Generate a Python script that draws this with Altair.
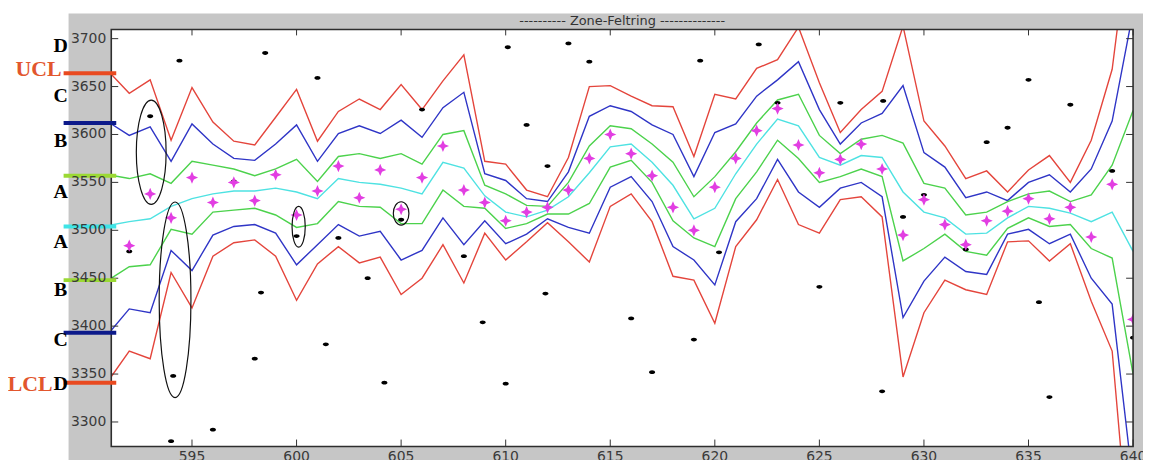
import altair as alt
import pandas as pd

# ---------------- data ----------------
x_pos = list(range(591, 641))

upper3 = [3666, 3643, 3657, 3594, 3649, 3613, 3593, 3589, 3618, 3647,
          3593, 3624, 3637, 3626, 3652, 3626, 3656, 3683, 3572, 3569,
          3542, 3535, 3576, 3650, 3651, 3640, 3630, 3629, 3577, 3642,
          3637, 3669, 3678, 3712, 3654, 3602, 3626, 3645, 3713, 3614,
          3588, 3554, 3562, 3540, 3563, 3578, 3550, 3594, 3668, 3840]
upper2 = [3613, 3599, 3608, 3572, 3611, 3590, 3575, 3573, 3590, 3610,
          3572, 3601, 3609, 3601, 3615, 3597, 3628, 3644, 3559, 3552,
          3533, 3530, 3561, 3619, 3630, 3624, 3610, 3600, 3556, 3602,
          3611, 3640, 3657, 3676, 3626, 3590, 3612, 3622, 3651, 3581,
          3566, 3534, 3540, 3531, 3550, 3558, 3540, 3564, 3614, 3728]
upper1 = [3558, 3554, 3559, 3549, 3572, 3568, 3564, 3557, 3564, 3574,
          3551, 3577, 3580, 3575, 3580, 3569, 3600, 3604, 3547, 3538,
          3526, 3525, 3550, 3588, 3609, 3606, 3590, 3571, 3535, 3556,
          3582, 3612, 3636, 3642, 3599, 3580, 3595, 3599, 3591, 3549,
          3544, 3516, 3519, 3530, 3538, 3541, 3530, 3537, 3568, 3625]
centre = [3505, 3509, 3512, 3525, 3533, 3538, 3541, 3541, 3544, 3540,
          3533, 3554, 3550, 3548, 3544, 3538, 3571, 3565, 3536, 3519,
          3514, 3521, 3535, 3560, 3587, 3590, 3571, 3547, 3512, 3523,
          3559, 3590, 3616, 3609, 3576, 3568, 3578, 3576, 3540, 3519,
          3513, 3496, 3497, 3513, 3525, 3523, 3518, 3509, 3519, 3478]
lower1 = [3448, 3462, 3464, 3501, 3496, 3519, 3521, 3523, 3516, 3503,
          3507, 3530, 3525, 3524, 3507, 3507, 3542, 3525, 3523, 3502,
          3507, 3517, 3517, 3528, 3566, 3573, 3550, 3510, 3492, 3483,
          3533, 3561, 3594, 3575, 3550, 3556, 3564, 3556, 3468, 3481,
          3496, 3478, 3474, 3502, 3513, 3504, 3506, 3481, 3471, 3350]
lower2 = [3392, 3418, 3414, 3479, 3458, 3495, 3504, 3506, 3497, 3464,
          3485, 3506, 3494, 3499, 3469, 3479, 3513, 3485, 3510, 3486,
          3496, 3512, 3503, 3497, 3545, 3556, 3530, 3483, 3469, 3443,
          3509, 3533, 3574, 3540, 3524, 3544, 3550, 3535, 3409, 3447,
          3472, 3457, 3454, 3496, 3501, 3486, 3496, 3450, 3423, 3235]
lower3 = [3343, 3374, 3366, 3456, 3419, 3473, 3487, 3490, 3473, 3427,
          3465, 3483, 3466, 3472, 3433, 3450, 3485, 3445, 3497, 3469,
          3488, 3508, 3488, 3467, 3525, 3538, 3509, 3452, 3448, 3403,
          3483, 3511, 3553, 3506, 3497, 3532, 3535, 3514, 3347, 3414,
          3448, 3438, 3433, 3488, 3489, 3468, 3486, 3426, 3374, 3125]

star_x = list(range(592, 641))
star_y = [3484, 3538, 3513, 3555, 3529, 3550, 3531, 3558, 3516, 3541,
          3567, 3534, 3563, 3522, 3555, 3588, 3542, 3529, 3510, 3519,
          3524, 3542, 3575, 3600, 3580, 3557, 3524, 3500, 3545, 3575,
          3604, 3627, 3589, 3560, 3574, 3590, 3564, 3495, 3532, 3506,
          3485, 3510, 3520, 3533, 3512, 3524, 3493, 3548, 3407]

dot_x = [592.0, 593.0, 594.4, 594.1, 594.0, 596.0, 597.0, 598.3, 598.5, 598.0,
         600.0, 601.0, 601.4, 602.0, 603.4, 604.2, 605.0, 606.0, 608.0, 608.9,
         610.0, 610.1, 611.0, 612.0, 611.9, 613.0, 614.0, 616.0, 617.0, 619.0,
         619.3, 620.2, 622.1, 623.0, 625.0, 626.0, 628.0, 628.05, 629.0, 630.0,
         632.0, 633.0, 634.0, 635.0, 635.5, 636.0, 637.0, 639.0, 640.0]
dot_y = [3478, 3619, 3677, 3348, 3280, 3292, 3551, 3435, 3685, 3366,
         3494, 3659, 3381, 3492, 3450, 3341, 3511, 3626, 3473, 3404,
         3340, 3691, 3610, 3567, 3434, 3695, 3676, 3408, 3352, 3386,
         3677, 3477, 3694, 3633, 3441, 3633, 3332, 3635, 3514, 3537,
         3480, 3592, 3607, 3657, 3425, 3326, 3631, 3562, 3388]

zone_names = ["UCL", "upper 2s", "upper 1s", "centre", "lower 1s", "lower 2s", "LCL"]
zone_levels = [3664, 3612, 3557, 3504, 3448, 3393, 3341]
zone_letters = ["D", "C", "B", "A", "A", "B", "C", "D"]
zone_letter_y = [3692, 3640, 3593, 3540, 3488, 3438, 3386, 3340]
limit_labels = ["UCL", "LCL"]
limit_label_y = [3668, 3340]

circled_x = [593.05, 594.19, 600.1, 605.0]
circled_y = [3581.5, 3427.5, 3503.7, 3517.6]

y_ticks = [3300, 3350, 3400, 3450, 3500, 3550, 3600, 3650, 3700]
x_ticks = [595, 600, 605, 610, 615, 620, 625, 630, 635, 640]
title_text = "---------- Zone-Feltring --------------"

# ---------------- styles ----------------
W, H = 1029, 420
XD = [591.14, 640.0]
YD = [3274.4, 3709.6]
series_colors = {
    "upper3": "#e4453c", "lower3": "#e4453c",
    "upper2": "#2f35c6", "lower2": "#2f35c6",
    "upper1": "#4cd24c", "lower1": "#4cd24c",
    "centre": "#4ee2e2",
}
zone_bar_colors = ["#e9491f", "#0c1a8a", "#9bd934", "#3fe4e6", "#9bd934", "#0c1a8a", "#e9491f"]
limit_label_x = [-50, -59]
circled_w = [30, 32, 13.3, 15.7]
circled_h = [105, 197, 41, 23.5]

xs = alt.Scale(domain=XD, nice=False, zero=False)
ys = alt.Scale(domain=YD, nice=False, zero=False)

# ---------------- tables ----------------
series = {"upper3": upper3, "upper2": upper2, "upper1": upper1, "centre": centre,
          "lower1": lower1, "lower2": lower2, "lower3": lower3}
rows = []
for name, vals in series.items():
    for xv, yv in zip(x_pos, vals):
        rows.append({"x": xv, "y": yv, "s": name, "col": series_colors[name]})
lines_df = pd.DataFrame(rows)
stars_df = pd.DataFrame({"x": star_x, "y": star_y})
dots_df = pd.DataFrame({"x": dot_x, "y": dot_y})
zones_df = pd.DataFrame({"y": zone_levels, "name": zone_names, "col": zone_bar_colors})
letters_df = pd.DataFrame({"y": zone_letter_y, "t": zone_letters})
limits_df = pd.DataFrame({"y": limit_label_y, "t": limit_labels, "px": limit_label_x})
ell_df = pd.DataFrame({
    "x": circled_x, "y": circled_y,
    "shape": [f"M {-w/h:.4f} 0 A {w/h:.4f} 1 0 1 0 {w/h:.4f} 0 A {w/h:.4f} 1 0 1 0 {-w/h:.4f} 0 Z"
              for w, h in zip(circled_w, circled_h)],
    "size": [h * h for h in circled_h],
})
yt_df = pd.DataFrame({"y": y_ticks, "lab": [str(v) for v in y_ticks]})
xt_df = pd.DataFrame({"x": x_ticks, "lab": [str(v) for v in x_ticks]})
one = pd.DataFrame({"k": [0]})

X = lambda f="x": alt.X(f"{f}:Q", scale=xs, axis=None)
Y = lambda f="y": alt.Y(f"{f}:Q", scale=ys, axis=None)

# ---------------- layers ----------------
gray_panel = alt.Chart(one).mark_rect(color="#c6c6c6", clip=False).encode(
    x=alt.value(-43), x2=alt.value(W + 20), y=alt.value(-16), y2=alt.value(H + 40))
white_area = alt.Chart(one).mark_rect(color="#ffffff").encode(
    x=alt.value(0), x2=alt.value(W), y=alt.value(0), y2=alt.value(H))

lines = alt.Chart(lines_df).mark_line(clip=True, strokeWidth=1.4).encode(
    x=X(), y=Y(), detail="s:N", color=alt.Color("col:N", scale=None))

dot_path = "M -1 0 A 1 0.62 0 1 0 1 0 A 1 0.62 0 1 0 -1 0 Z"
dots = alt.Chart(dots_df).mark_point(shape=dot_path, size=38, filled=True, color="#000000",
                                     opacity=1, clip=True).encode(x=X(), y=Y())

star_path = "M 0 -1 L 0.3 -0.3 L 1 0 L 0.3 0.3 L 0 1 L -0.3 0.3 L -1 0 L -0.3 -0.3 Z"
stars = alt.Chart(stars_df).mark_point(shape=star_path, size=150, filled=True, color="#e23ee2",
                                       opacity=1, clip=True).encode(x=X(), y=Y())

ellipses = alt.Chart(ell_df).mark_point(filled=False, color="#111111", strokeWidth=1.2,
                                        opacity=1).encode(
    x=X(), y=Y(),
    shape=alt.Shape("shape:N", scale=None), size=alt.Size("size:Q", scale=None))

tick_style = dict(color="#333333", strokeWidth=1)
ytick_l = alt.Chart(yt_df).mark_rule(**tick_style).encode(y=Y(), x=alt.value(0), x2=alt.value(7))
ytick_r = alt.Chart(yt_df).mark_rule(**tick_style).encode(y=Y(), x=alt.value(W - 7), x2=alt.value(W))
xtick_t = alt.Chart(xt_df).mark_rule(**tick_style).encode(x=X(), y=alt.value(0), y2=alt.value(6))
xtick_b = alt.Chart(xt_df).mark_rule(**tick_style).encode(x=X(), y=alt.value(H - 7), y2=alt.value(H))

label_style = dict(font="DejaVu Sans", fontSize=14, color="#3a3a3a", clip=False)
ylabels = alt.Chart(yt_df).mark_text(align="right", baseline="middle", **label_style).encode(
    y=Y(), x=alt.value(-5), text="lab:N")
xlabels = alt.Chart(xt_df).mark_text(align="center", baseline="top", **label_style).encode(
    x=X(), y=alt.value(H + 4), text="lab:N")

frame = alt.Chart(one).mark_rect(fillOpacity=0, stroke="#2e2e2e", strokeWidth=1.6).encode(
    x=alt.value(0), x2=alt.value(W), y=alt.value(0), y2=alt.value(H))

zone_bars = alt.Chart(zones_df).mark_rule(strokeWidth=4, clip=False).encode(
    y=Y(), x=alt.value(-48), x2=alt.value(5), color=alt.Color("col:N", scale=None))

letters = alt.Chart(letters_df).mark_text(font="Liberation Serif", fontWeight="bold", fontSize=20,
                                          color="#000000", align="center", baseline="middle",
                                          clip=False).encode(
    y=Y(), x=alt.value(-51), text="t:N")

limits = alt.Chart(limits_df).mark_text(font="Liberation Serif", fontWeight="bold", fontSize=22,
                                        color="#e2562d", align="right", baseline="middle",
                                        clip=False).encode(
    y=Y(), x=alt.X("px:Q", scale=None, axis=None), text="t:N")

title = alt.Chart(one).mark_text(text=title_text, font="DejaVu Sans", fontSize=13,
                                 color="#333333", align="center", baseline="middle").encode(
    x=alt.value(W / 2), y=alt.value(-8))

chart = alt.layer(
    gray_panel, white_area, lines, dots, stars, ellipses,
    ytick_l, ytick_r, xtick_t, xtick_b, frame, zone_bars, letters, limits, title,
    ylabels, xlabels,
).properties(
    width=W, height=H,
    padding={"left": 104, "top": 20, "right": 10, "bottom": 12},
    autosize=alt.AutoSizeParams(type="none"),
    background="#ffffff",
).configure_view(stroke=None)

chart.save("out.html", embed_options={"renderer": "svg", "actions": False})
